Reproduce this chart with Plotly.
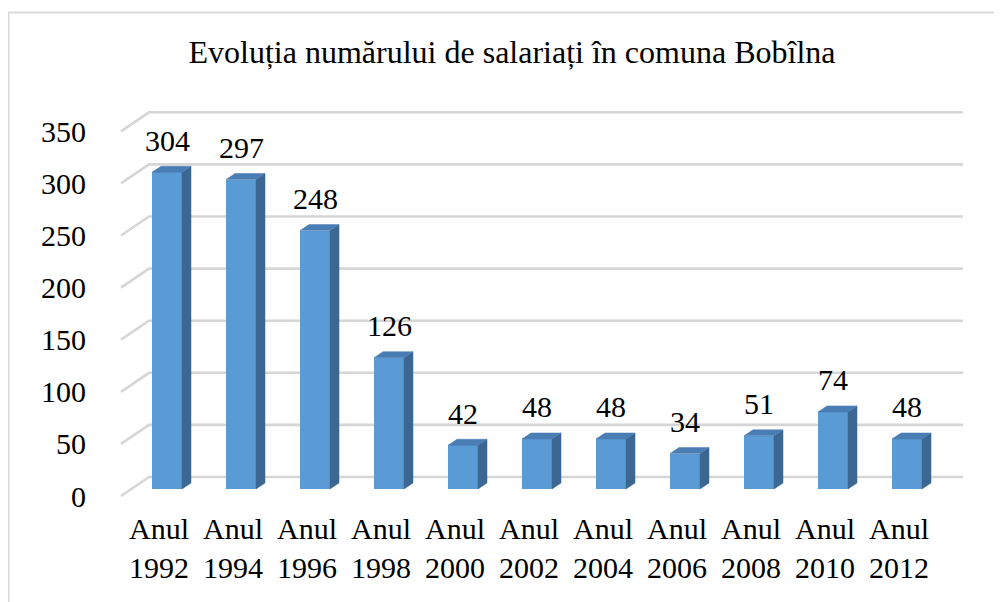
import plotly.graph_objects as go

# ---- data ----
years = ["1992", "1994", "1996", "1998", "2000", "2002", "2004", "2006", "2008", "2010", "2012"]
values = [304, 297, 248, 126, 42, 48, 48, 34, 51, 74, 48]
y_ticks = [0, 50, 100, 150, 200, 250, 300, 350]
title_text = "Evoluția numărului de salariați în comuna Bobîlna"

# ---- layout constants (pixels, in page coordinates; page body has an 8px margin) ----
OFF = 8
W, H = 1002, 602
PLOT_L, PLOT_R, PLOT_T, PLOT_B = 118 - OFF, 963 - OFF, 100 - OFF, 500 - OFF
ML, MR, MT, MB = PLOT_L, W - PLOT_R, PLOT_T, H - PLOT_B
PX_PER_CAT = 74.0          # horizontal pixels between categories
PX_PER_UNIT = 1.042        # vertical pixels per value unit
X0_PIX = 167 - OFF         # pixel x of first category
Y0_PIX = 489 - OFF         # pixel y of value 0 on the bar front

def px_to_x(p):
    return (p - X0_PIX) / PX_PER_CAT

def dpx_to_y(d):
    return d / PX_PER_UNIT

x_min = px_to_x(PLOT_L)
x_max = px_to_x(PLOT_R)
y_min = -dpx_to_y(PLOT_B - Y0_PIX)
y_max = dpx_to_y(Y0_PIX - PLOT_T)

bar_w = 30 / PX_PER_CAT
dx = 9 / PX_PER_CAT
dy = dpx_to_y(6)
wall_dy = dpx_to_y(12)
front_dy = -dpx_to_y(7)
grid_xf = px_to_x(121 - OFF)
grid_xb = px_to_x(149 - OFF)
grid_xe = px_to_x(963 - OFF)

FONT = "Liberation Serif"
FRONT = "#5b9bd5"
SIDE = "#3b6792"
TOP = "#4a7db4"
GRID = "#d6d6d6"

xs = list(range(len(years)))

fig = go.Figure()

# gridlines (3D back wall + floor diagonal), below the bars
for v in y_ticks:
    path = (f"M {grid_xf},{v + front_dy} L {grid_xb},{v + wall_dy} "
            f"L {grid_xe},{v + wall_dy}")
    fig.add_shape(type="path", path=path, xref="x", yref="y",
                  line=dict(color=GRID, width=2.6), layer="below")

# side and top faces
sx, sy = [], []
tx, ty = [], []
for i, v in zip(xs, values):
    xl = i - bar_w / 2
    xr = i + bar_w / 2
    sx += [xr, xr + dx, xr + dx, xr, xr, None]
    sy += [0, dy, v + dy, v, 0, None]
    tx += [xl, xl + dx, xr + dx, xr, xl, None]
    ty += [v, v + dy, v + dy, v, v, None]
fig.add_trace(go.Scatter(x=sx, y=sy, mode="lines", fill="toself",
                         fillcolor=SIDE, line=dict(color=SIDE, width=0.5),
                         hoverinfo="skip", showlegend=False))
fig.add_trace(go.Scatter(x=tx, y=ty, mode="lines", fill="toself",
                         fillcolor=TOP, line=dict(color=TOP, width=0.5),
                         hoverinfo="skip", showlegend=False))

# front faces
fig.add_trace(go.Bar(x=xs, y=values, width=bar_w, marker=dict(color=FRONT, line=dict(width=0)),
                     showlegend=False, hovertemplate="Anul %{customdata}: %{y}<extra></extra>",
                     customdata=years))

# data labels
for i, v in zip(xs, values):
    fig.add_annotation(x=i, y=v, text=str(v), showarrow=False,
                       yanchor="middle", yshift=32,
                       font=dict(family=FONT, size=30, color="#000000"))

# chart border
pw = W - ML - MR
ph = H - MT - MB
bx = 8.5 - OFF
by = 12.5 - OFF
fig.add_shape(type="rect", xref="paper", yref="paper",
              x0=(bx - ML) / pw, x1=(W + 20 - ML) / pw,
              y0=(PLOT_B - (H + 20)) / ph, y1=(PLOT_B - by) / ph,
              line=dict(color="#d9d9d9", width=2), fillcolor="rgba(0,0,0,0)", layer="below")

fig.update_layout(
    width=W, height=H,
    margin=dict(l=ML, r=MR, t=MT, b=MB, autoexpand=False),
    paper_bgcolor="white", plot_bgcolor="white",
    title=dict(text=title_text, x=(512 - OFF) / W, xanchor="center", xref="container",
               y=1 - (52 - OFF) / H, yanchor="middle",
               font=dict(family=FONT, size=32, color="#000000")),
    xaxis=dict(range=[x_min, x_max], showgrid=False, zeroline=False, showline=False,
               tickmode="array", tickvals=[i - 0.108 for i in xs],
               ticktext=["Anul<br>" + y for y in years], ticks="",
               tickfont=dict(family=FONT, size=30, color="#000000"),
               ticklabelstandoff=8, fixedrange=True, automargin=False),
    yaxis=dict(range=[y_min, y_max], showgrid=False, zeroline=False, showline=False,
               tickmode="array", tickvals=[v + front_dy for v in y_ticks],
               ticktext=[str(v) for v in y_ticks], ticks="",
               tickfont=dict(family=FONT, size=30, color="#000000"),
               ticklabelstandoff=31, fixedrange=True, automargin=False),
    bargap=0,
)

fig.write_html("out.html")
